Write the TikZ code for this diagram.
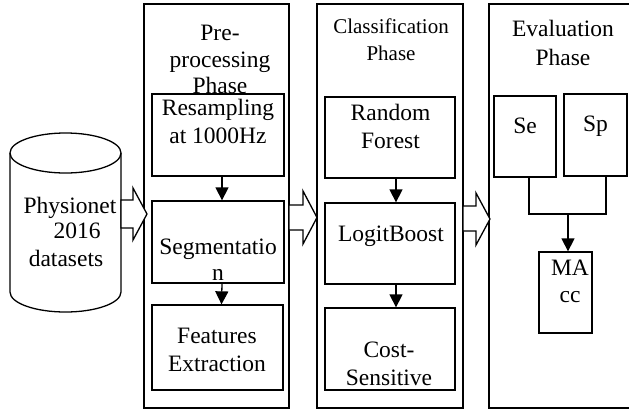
\documentclass[tikz,border=0pt]{standalone}
\usepackage{fontspec}
\setmainfont{Liberation Serif}
\usetikzlibrary{arrows.meta}
\tikzset{
  box/.style={draw, line width=1.3pt, inner sep=0pt},
  arr/.style={-{Triangle[width=13pt,length=13pt]}, line width=1.3pt},
  blk/.style={draw, line width=1.3pt, fill=white, line join=miter},
  tx/.style={font=\fontsize{23.5}{27}\selectfont, anchor=base, inner sep=0pt},
  txs/.style={font=\fontsize{21}{27}\selectfont, anchor=base, inner sep=0pt}
}
\begin{document}
\begin{tikzpicture}[x=1pt,y=-1pt]
\useasboundingbox (0,0) rectangle (629,410);
% panels
\node[box, minimum width=145pt, minimum height=404pt] (pre) at (216.5,206) {};
\node[box, minimum width=146pt, minimum height=404pt] (cls) at (390,206) {};
\node[box, minimum width=148pt, minimum height=404pt] (eva) at (563,206) {};
% cylinder
\draw[line width=1.3pt] (10,153) -- (10,292) arc[start angle=180, end angle=0, x radius=55.5, y radius=20] -- (121,153);
\draw[line width=1.3pt] (65.5,153) ellipse [x radius=55.5, y radius=20];
\node[minimum width=111pt, minimum height=179pt, inner sep=0pt] (db) at (65.5,222.5) {};
\node[tx] (db1) at (70,213) {Physionet};
\node[tx] (db2) at (77,238) {2016};
\node[tx] (db3) at (66,266) {datasets};
% block arrows
\draw[blk] (121,200) -- (133,200) -- (133,188) -- (147,214) -- (133,240) -- (133,228) -- (121,228) -- cycle;
\draw[blk] (289,205) -- (303,205) -- (303,191) -- (317,217.5) -- (303,244) -- (303,230) -- (289,230) -- cycle;
\draw[blk] (463,206) -- (476,206) -- (476,193) -- (490,219) -- (476,245) -- (476,231) -- (463,231) -- cycle;
% titles
\node[tx] (pt1) at (220,40.5) {Pre-};
\node[tx] (pt2) at (220,67.5) {processing};
\node[tx] (pt3) at (220,93) {Phase};
\node[txs] (ct1) at (391,33) {Classification};
\node[txs] (ct2) at (391,60.5) {Phase};
\node[tx] (et1) at (563,36.5) {Evaluation};
\node[tx] (et2) at (563,65) {Phase};
% pre-processing boxes
\node[box, minimum width=132pt, minimum height=82pt] (rs) at (218,135) {};
\node[box, minimum width=132pt, minimum height=82pt] (seg) at (218,242) {};
\node[box, minimum width=131pt, minimum height=85pt] (fe) at (217.5,347.5) {};
\node[tx] (rs1) at (218,115) {Resampling};
\node[tx] (rs2) at (218,143) {at 1000Hz};
\node[tx] (sg1) at (218,254) {Segmentatio};
\node[tx] (sg2) at (218,280) {n};
\node[tx] (fe1) at (217,343) {Features};
\node[tx] (fe2) at (217,371) {Extraction};
\draw[arr] ([xshift=4pt]rs.south) -- ([xshift=4pt]seg.north);
\draw[arr] ([xshift=4pt]seg.south) -- ([xshift=4pt]fe.north);
% classification boxes
\node[box, minimum width=130pt, minimum height=81pt] (rf) at (390,137.5) {};
\node[box, minimum width=130pt, minimum height=81pt] (lb) at (390,243.5) {};
\node[box, minimum width=130pt, minimum height=82pt] (cs) at (390,349) {};
\node[tx] (rf1) at (390.5,120) {Random};
\node[tx] (rf2) at (390.5,148) {Forest};
\node[tx] (lb1) at (391,241.5) {LogitBoost};
\node[tx] (cs1) at (389,357) {Cost-};
\node[tx] (cs2) at (389,385) {Sensitive};
\draw[arr] ([xshift=6pt]rf.south) -- ([xshift=6pt]lb.north);
\draw[arr] ([xshift=6pt]lb.south) -- ([xshift=6pt]cs.north);
% evaluation boxes
\node[box, minimum width=62pt, minimum height=81pt] (se) at (525,136.5) {};
\node[box, minimum width=63pt, minimum height=82pt] (sp) at (595.5,135) {};
\node[box, minimum width=53pt, minimum height=81pt] (ma) at (565.5,292.5) {};
\node[tx] (se1) at (525,133) {Se};
\node[tx] (sp1) at (595.5,131) {Sp};
\node[tx] (ma1) at (570,275) {MA};
\node[tx] (ma2) at (570,302) {cc};
\coordinate (j) at (568,214);
\draw[line width=1.3pt] ([xshift=4pt]se.south) |- (j) -| ([xshift=10.5pt]sp.south);
\draw[arr] (j) -- (j |- ma.north);
\end{tikzpicture}
\end{document}
